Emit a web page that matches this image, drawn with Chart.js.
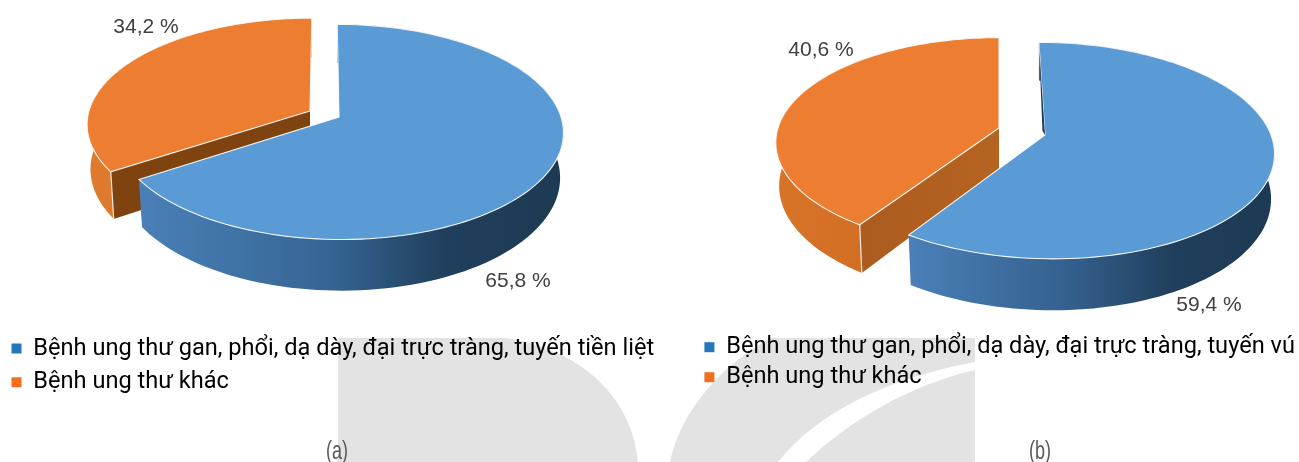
<!DOCTYPE html>
<html><head><meta charset="utf-8">
<script src="https://cdn.jsdelivr.net/npm/chart.js@4/dist/chart.umd.js"></script>
<style>
html,body{margin:0;padding:0;background:#fff;width:1299px;height:462px;overflow:hidden}
#stage{position:relative;width:1299px;height:462px;filter:blur(.4px)}
canvas{position:absolute;left:0;top:0}
svg{position:absolute;left:0;top:0}
.cap{position:absolute;top:436px;font:25px "Liberation Sans Narrow","Liberation Sans",sans-serif;color:#5a5a5a;transform:translateX(-50%) scaleX(.72)}
</style></head><body>
<div id="stage">
<svg width="1299" height="462"><g fill="#e4e3e3">
<path d="M338 338 L505 338 C585 350 632 400 638 462 L338 462 Z"/>
<path d="M770 338 L975 338 L975 362 C890 378 820 410 778 462 L670 462 C680 415 715 370 770 338 Z"/>
<path d="M806 462 C850 420 910 385 975 370 L975 462 Z"/>
</g></svg>
<canvas id="a" width="1299" height="462"></canvas>
<canvas id="b" width="1299" height="462"></canvas>
<div class="cap" style="left:337px">(a)</div>
<div class="cap" style="left:1040px">(b)</div>
</div>
<script>
const labelsA = ["Bệnh ung thư gan, phổi, dạ dày, đại trực tràng, tuyến tiền liệt", "Bệnh ung thư khác"];
const valuesA = [65.8, 34.2];
const labelsB = ["Bệnh ung thư gan, phổi, dạ dày, đại trực tràng, tuyến vú", "Bệnh ung thư khác"];
const valuesB = [59.4, 40.6];

const BLUE = "#5b9bd5", ORANGE = "#ed7d31";
const LEGEND_BLUE = "#2277bd", LEGEND_ORANGE = "#f26f22";

const geomA = [
  {ax:339, ay:117, rx:222, ry:105.5, k:.139, tilt:2, h:44, s:.985, label:[518,281],
   wall:[[0,"#4a80b8"],[.45,"#356594"],[.72,"#203f5c"],[1,"#1d3a54"]], cut:[[0,"#7f4310"],[1,"#7f4310"]]},
  {ax:310, ay:111, rx:221, ry:104, k:.12, tilt:-2, h:44, s:.985, label:[146,27],
   wall:[[0,"#e07a2e"],[1,"#d8702a"]], cut:[[0,"#7f4310"],[1,"#7f4310"]]}
];
const geomB = [
  {ax:1045, ay:135, rx:226, ry:106, k:.144, tilt:7, h:44, s:.985, label:[1209,305], sliver:true,
   wall:[[0,"#4a80b8"],[.45,"#335f8c"],[.72,"#203f5c"],[1,"#1d3a54"]], cut:[[0,"#1d3a54"],[1,"#1d3a54"]]},
  {ax:999, ay:128, rx:221, ry:103, k:.14, tilt:0, h:42.5, s:.985, label:[821,50],
   wall:[[0,"#d87428"],[1,"#c9661f"]], cut:[[0,"#ac5c1f"],[1,"#b5631f"]]}
];
const geomById = { a: geomA, b: geomB };

function proj(g, angle, frac, lower) {
  const X = Math.cos(angle) * frac, Y = Math.sin(angle) * frac;
  const w = 1 - g.k * Y;
  let x = g.ax + (g.rx * X + g.tilt * Y) / w;
  let y = g.ay + g.ry * Y / w;
  if (lower) { x = g.ax + (x - g.ax) * g.s; y += g.h / w; }
  return [x, y];
}
function arcPoints(g, a0, a1, lower) {
  const n = 120, pts = [];
  for (let i = 0; i <= n; i++) pts.push(proj(g, a0 + (a1 - a0) * i / n, 1, lower));
  return pts;
}
function trace(ctx, pts) {
  ctx.beginPath();
  pts.forEach((p, i) => i ? ctx.lineTo(p[0], p[1]) : ctx.moveTo(p[0], p[1]));
  ctx.closePath();
}
function grad(ctx, stops, x0, x1) {
  const gr = ctx.createLinearGradient(x0, 0, x1, 0);
  stops.forEach(s => gr.addColorStop(s[0], s[1]));
  return gr;
}
const pie3d = {
  id: "pie3d",
  beforeDatasetsDraw(chart) {
    const ctx = chart.ctx, arcs = chart.getDatasetMeta(0).data, geom = geomById[chart.canvas.id];
    ctx.save();
    for (const i of [1, 0]) {
      const g = geom[i], a0 = arcs[i].startAngle, a1 = arcs[i].endAngle;
      const top = arcPoints(g, a0, a1, false), low = arcPoints(g, a0, a1, true);
      const xs = top.map(p => p[0]), minX = Math.min(...xs), maxX = Math.max(...xs);
      // outer wall
      ctx.fillStyle = grad(ctx, g.wall, minX, maxX);
      trace(ctx, top.concat(low.slice().reverse())); ctx.fill();
      // cut face towards the viewer
      const apexT = proj(g, 0, 0, false), apexL = proj(g, 0, 0, true);
      if (i === 1) {
        const tipT = proj(g, a0, 1, false), tipL = proj(g, a0, 1, true);
        ctx.fillStyle = grad(ctx, g.cut, tipT[0], apexT[0]);
        trace(ctx, [apexT, tipT, tipL, apexL]); ctx.fill();
        ctx.strokeStyle = "rgba(255,255,255,.85)"; ctx.lineWidth = 1.2;
        ctx.beginPath(); ctx.moveTo(tipT[0], tipT[1]); ctx.lineTo(tipL[0], tipL[1]); ctx.stroke();
      }
      // top face
      ctx.fillStyle = arcs[i].options.backgroundColor;
      trace(ctx, [apexT].concat(top)); ctx.fill();
      ctx.strokeStyle = "rgba(255,255,255,.9)"; ctx.lineWidth = 1.1; ctx.stroke();
      if (g.sliver) {
        const n = proj(g, a0, 1, false);
        ctx.fillStyle = "#1d3a54";
        trace(ctx, [n, apexT, [apexT[0] - 2.5, apexT[1] - 4]]); ctx.fill();
      }
    }
    // value labels
    ctx.fillStyle = "#404040"; ctx.font = '21px "Liberation Sans"';
    ctx.textAlign = "center"; ctx.textBaseline = "middle";
    arcs.forEach((el, i) => {
      const txt = chart.data.datasets[0].data[i].toFixed(1).replace(".", ",") + " %";
      ctx.fillText(txt, geom[i].label[0], geom[i].label[1]);
    });
    ctx.restore();
    return false;
  }
};
function make(id, labels, values, pad, spacing) {
  new Chart(document.getElementById(id), {
    type: "pie",
    data: { labels, datasets: [{ data: values, backgroundColor: [BLUE, ORANGE], borderWidth: 0 }] },
    options: {
      responsive: false, animation: false,
      layout: { padding: pad },
      plugins: {
        tooltip: { enabled: false },
        legend: {
          position: "bottom", align: "start",
          labels: {
            boxWidth: 10, boxHeight: 10, padding: spacing, color: "#333333",
            font: { family: "Roboto", size: 23.6 },
            generateLabels(c) {
              return c.data.labels.map((t, i) => ({
                text: t, fillStyle: i ? LEGEND_ORANGE : LEGEND_BLUE, strokeStyle: "transparent",
                lineWidth: 0, index: i, hidden: false
              }));
            }
          }
        }
      }
    },
    plugins: [pie3d]
  });
}
make("a", labelsA, valuesA, { left: 1.5, right: 600, bottom: 58, top: 0 }, 10);
make("b", labelsB, valuesB, { left: 698, right: 0, bottom: 63, top: 0 }, 6.4);
</script>
</body></html>
